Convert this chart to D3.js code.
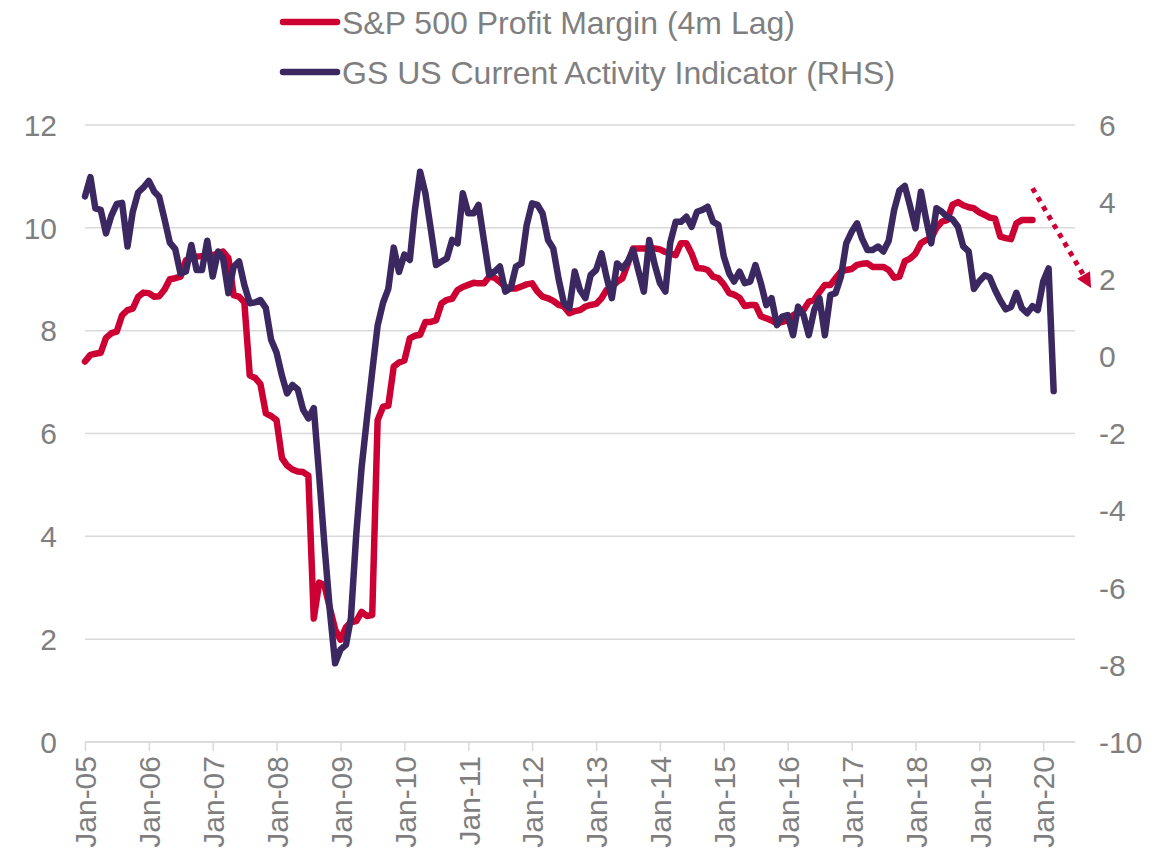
<!DOCTYPE html>
<html lang="en">
<head>
<meta charset="UTF-8">
<title>profit margin vs current activity</title>
<style>
  * { margin: 0; padding: 0; }
  body { background: #fff; }
  svg { display: block; font-family: Arial, "Liberation Sans", sans-serif; }
</style>
</head>
<body>
<script src="https://cdn.jsdelivr.net/npm/d3@7/dist/d3.min.js"></script>
<script>
var seriesNames = ["S&P 500 Profit Margin (4m Lag)", "GS US Current Activity Indicator (RHS)"];
var firstMonth = "2005-01";

// monthly, left axis
var profitMargin = [
  7.40, 7.53, 7.55, 7.57, 7.86, 7.95, 7.98, 8.30, 8.40, 8.43,
  8.66, 8.74, 8.73, 8.66, 8.67, 8.80, 9.00, 9.02, 9.05, 9.37,
  9.41, 9.44, 9.45, 9.46, 9.47, 9.50, 9.54, 9.41, 8.69, 8.66,
  8.55, 7.13, 7.08, 6.96, 6.39, 6.34, 6.26, 5.52, 5.38, 5.30,
  5.26, 5.25, 5.18, 2.40, 3.10, 3.05, 2.60, 2.19, 1.99, 2.23,
  2.33, 2.35, 2.53, 2.45, 2.47, 6.26, 6.52, 6.54, 7.30, 7.38,
  7.42, 7.85, 7.90, 7.92, 8.17, 8.17, 8.20, 8.53, 8.60, 8.62,
  8.79, 8.85, 8.89, 8.93, 8.92, 8.92, 9.05, 9.03, 8.95, 8.85,
  8.82, 8.82, 8.86, 8.90, 8.92, 8.76, 8.66, 8.63, 8.58, 8.50,
  8.47, 8.34, 8.38, 8.40, 8.47, 8.50, 8.52, 8.63, 8.79, 8.85,
  8.95, 9.02, 9.30, 9.60, 9.60, 9.60, 9.60, 9.60, 9.58, 9.53,
  9.50, 9.47, 9.70, 9.70, 9.50, 9.22, 9.21, 9.18, 9.05, 9.02,
  8.90, 8.73, 8.70, 8.64, 8.48, 8.50, 8.50, 8.28, 8.24, 8.20,
  8.14, 8.17, 8.20, 8.30, 8.36, 8.40, 8.56, 8.60, 8.75, 8.89,
  8.89, 9.02, 9.15, 9.18, 9.20, 9.28, 9.30, 9.31, 9.24, 9.24,
  9.24, 9.18, 9.03, 9.05, 9.35, 9.40, 9.50, 9.70, 9.76, 9.80,
  10.00, 10.12, 10.15, 10.45, 10.50, 10.44, 10.40, 10.38, 10.30, 10.25,
  10.20, 10.18, 9.83, 9.80, 9.78, 10.09, 10.15, 10.15, 10.15
];

// monthly, right axis
var activity = [
  4.15, 4.65, 3.84, 3.80, 3.19, 3.65, 3.95, 3.98, 2.85, 3.75,
  4.25, 4.38, 4.55, 4.27, 4.14, 3.55, 2.95, 2.78, 2.15, 2.20,
  2.89, 2.24, 2.24, 3.00, 2.07, 2.72, 2.55, 1.64, 2.33, 2.46,
  1.85, 1.38, 1.40, 1.46, 1.25, 0.43, 0.10, -0.50, -0.96, -0.74,
  -0.85, -1.38, -1.61, -1.34, -3.10, -4.90, -6.60, -7.96, -7.60, -7.48,
  -6.80, -4.60, -2.90, -1.60, -0.40, 0.80, 1.39, 1.75, 2.82, 2.19,
  2.64, 2.50, 3.75, 4.79, 4.23, 3.30, 2.37, 2.46, 2.54, 3.02,
  2.93, 4.23, 3.71, 3.71, 3.93, 3.00, 2.11, 2.20, 2.33, 1.68,
  1.77, 2.33, 2.41, 3.40, 3.97, 3.93, 3.71, 3.02, 2.80, 2.00,
  1.38, 1.25, 2.20, 1.72, 1.51, 2.11, 2.24, 2.67, 2.07, 1.51,
  2.41, 2.28, 2.46, 2.76, 2.20, 1.68, 3.02, 2.40, 1.90, 1.68,
  2.95, 3.49, 3.49, 3.62, 3.36, 3.75, 3.80, 3.88, 3.49, 3.41,
  2.59, 2.15, 1.94, 2.20, 1.90, 1.94, 2.37, 1.90, 1.33, 1.51,
  0.81, 1.03, 1.07, 0.55, 1.29, 1.07, 0.55, 1.20, 1.51, 0.55,
  1.59, 1.64, 2.07, 2.93, 3.23, 3.45, 3.06, 2.76, 2.76, 2.85,
  2.72, 3.00, 3.80, 4.30, 4.42, 3.90, 3.32, 4.27, 3.60, 2.93,
  3.84, 3.75, 3.62, 3.55, 3.36, 2.85, 2.72, 1.75, 1.95, 2.10,
  2.05, 1.72, 1.45, 1.22, 1.28, 1.65, 1.25, 1.12, 1.30, 1.20,
  1.94, 2.28, -0.90
];

var xTickLabels = ["Jan-05", "Jan-06", "Jan-07", "Jan-08", "Jan-09", "Jan-10", "Jan-11", "Jan-12",
                   "Jan-13", "Jan-14", "Jan-15", "Jan-16", "Jan-17", "Jan-18", "Jan-19", "Jan-20"];
var leftTicks = [0, 2, 4, 6, 8, 10, 12];
var rightTicks = [-10, -8, -6, -4, -2, 0, 2, 4, 6];

var red = "#CC0033", purple = "#3B2860", grey = "#7F7F7F", gridColor = "#D9D9D9";

var width = 1175, height = 861;
var plot = { left: 85, right: 1075, top: 125, bottom: 742 };

var svg = d3.select("body").append("svg").attr("width", width).attr("height", height);

var parseMonth = d3.timeParse("%Y-%m");
var parseLabel = d3.timeParse("%b-%y");
var start = parseMonth(firstMonth);
function monthAt(i) { return d3.timeMonth.offset(start, i); }

var x = d3.scaleTime()
  .domain([start, d3.timeMonth.offset(start, 186)])
  .range([plot.left, plot.right]);
var yLeft = d3.scaleLinear().domain([0, 12]).range([plot.bottom, plot.top]);
var yRight = d3.scaleLinear().domain([-10, 6]).range([plot.bottom, plot.top]);

// gridlines
svg.append("g")
  .selectAll("line")
  .data(leftTicks)
  .enter()
  .append("line")
  .attr("x1", plot.left).attr("x2", plot.right)
  .attr("y1", function (d) { return yLeft(d); })
  .attr("y2", function (d) { return yLeft(d); })
  .attr("stroke", gridColor)
  .attr("stroke-width", 1.5);

// x axis
var xTicks = xTickLabels.map(function (s) { return parseLabel(s); });
var xAxis = svg.append("g")
  .attr("transform", "translate(0," + plot.bottom + ")")
  .call(d3.axisBottom(x).tickValues(xTicks).tickSize(9).tickFormat(d3.timeFormat("%b-%y")));
xAxis.select(".domain").attr("stroke", gridColor).attr("stroke-width", 1.5)
  .attr("d", "M" + plot.left + ",0H" + plot.right);
xAxis.selectAll(".tick line").attr("stroke", gridColor).attr("stroke-width", 1.5);
xAxis.selectAll(".tick text")
  .attr("fill", grey)
  .style("font-size", "30px")
  .attr("text-anchor", "end")
  .attr("x", 0).attr("y", 0)
  .attr("dy", "0.36em")
  .attr("transform", "translate(0,14) rotate(-90)");

// left axis labels
svg.append("g")
  .selectAll("text")
  .data(leftTicks)
  .enter()
  .append("text")
  .attr("x", 57)
  .attr("y", function (d) { return yLeft(d); })
  .attr("dy", "0.36em")
  .attr("text-anchor", "end")
  .attr("fill", grey)
  .style("font-size", "30px")
  .text(function (d) { return d; });

// right axis labels
svg.append("g")
  .selectAll("text")
  .data(rightTicks)
  .enter()
  .append("text")
  .attr("x", 1099)
  .attr("y", function (d) { return yRight(d); })
  .attr("dy", "0.36em")
  .attr("text-anchor", "start")
  .attr("fill", grey)
  .style("font-size", "30px")
  .text(function (d) { return d; });

// lines
var lineLeft = d3.line()
  .x(function (d, i) { return x(monthAt(i)); })
  .y(function (d) { return yLeft(d); });
var lineRight = d3.line()
  .x(function (d, i) { return x(monthAt(i)); })
  .y(function (d) { return yRight(d); });

svg.append("path")
  .datum(profitMargin)
  .attr("d", lineLeft)
  .attr("fill", "none")
  .attr("stroke", red)
  .attr("stroke-width", 6.5)
  .attr("stroke-linejoin", "round")
  .attr("stroke-linecap", "round");

svg.append("path")
  .datum(activity)
  .attr("d", lineRight)
  .attr("fill", "none")
  .attr("stroke", purple)
  .attr("stroke-width", 6.5)
  .attr("stroke-linejoin", "round")
  .attr("stroke-linecap", "round");

// dotted arrow
var ax1 = x(d3.timeMonth.offset(start, 178)), ay1 = yLeft(10.77);
var ax2 = x(d3.timeMonth.offset(start, 189.4)), ay2 = yLeft(8.83);
var ang = Math.atan2(ay2 - ay1, ax2 - ax1);
var headLen = 15, headHalf = 7.5;
var bx = ax2 - headLen * Math.cos(ang), by = ay2 - headLen * Math.sin(ang);
svg.append("line")
  .attr("x1", ax1).attr("y1", ay1)
  .attr("x2", bx).attr("y2", by)
  .attr("stroke", red)
  .attr("stroke-width", 5)
  .attr("stroke-dasharray", "5,5.5");
svg.append("path")
  .attr("d", "M" + ax2 + "," + ay2 +
    "L" + (bx + headHalf * Math.sin(ang)) + "," + (by - headHalf * Math.cos(ang)) +
    "L" + (bx - headHalf * Math.sin(ang)) + "," + (by + headHalf * Math.cos(ang)) + "Z")
  .attr("fill", red);

// legend
var legend = svg.append("g")
  .selectAll("g")
  .data(seriesNames)
  .enter()
  .append("g")
  .attr("transform", function (d, i) { return "translate(283," + (22 + i * 50) + ")"; });
legend.append("line")
  .attr("x1", 0).attr("x2", 54)
  .attr("stroke", function (d, i) { return i === 0 ? red : purple; })
  .attr("stroke-width", 6.5)
  .attr("stroke-linecap", "round");
legend.append("text")
  .attr("x", 59)
  .attr("dy", "0.36em")
  .attr("fill", grey)
  .style("font-size", "32px")
  .text(function (d) { return d; });
</script>
</body>
</html>
